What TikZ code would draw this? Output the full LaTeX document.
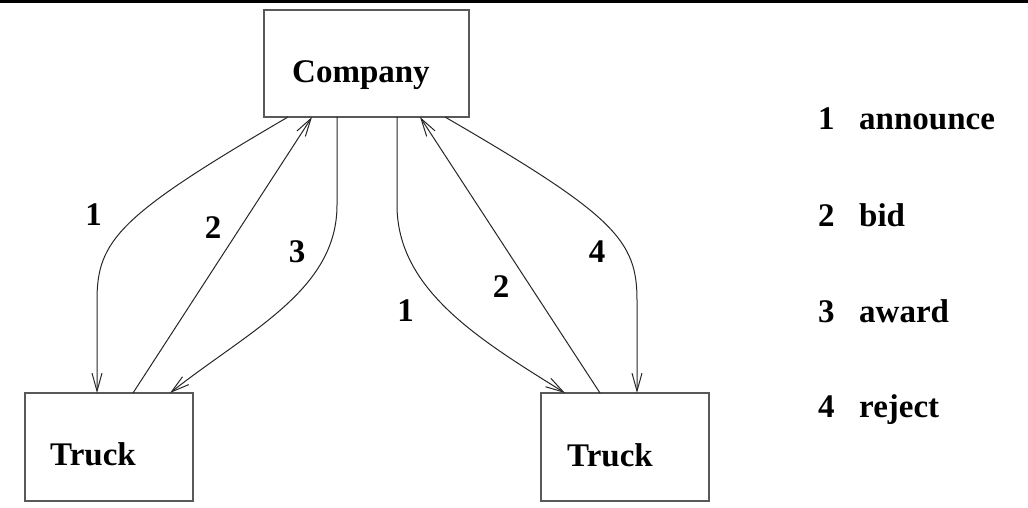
\documentclass[tikz,border=0pt]{standalone}
\usepackage{fontspec}
\setmainfont{Liberation Serif}
\usetikzlibrary{arrows.meta}
\begin{document}
\begin{tikzpicture}[x=1pt,y=-1pt,
  box/.style={draw=black!65,line width=1.6pt,rectangle,inner sep=0pt,outer sep=0pt},
  lbl/.style={inner sep=0pt,anchor=base west,font=\fontsize{33}{39}\selectfont\bfseries},
  num/.style={inner sep=0pt,anchor=center,font=\fontsize{33}{39}\selectfont\bfseries},
  msg/.style={draw=black!85,line width=1pt,-{Straight Barb[length=18pt,width=10pt,line width=1pt]}}]
\useasboundingbox (0,0) rectangle (1028,508);
% rule along the top edge
\draw[line width=3pt] (0,1.5) coordinate (rl) -- (1028,1.5) coordinate (rr);

% the three agents
\node[box,minimum width=205pt,minimum height=107pt] (co) at (366.5,63.5) {};
\node[box,minimum width=168pt,minimum height=108pt] (lt) at (109,447) {};
\node[box,minimum width=168pt,minimum height=108pt] (rt) at (625,447) {};
\node[lbl] (cotxt) at (292,82.5) {Company};
\node[lbl] (lttxt) at (50,465.5) {Truck};
\node[lbl] (rttxt) at (567,466) {Truck};

% messages between the company and the left truck
\draw[msg] ([xshift=24]co.south west) .. controls (120,215) and (97,240) .. (97,300) -- ([xshift=72]lt.north west);
\draw[msg] ([xshift=108]lt.north west) -- ([xshift=48]co.south west);
\draw[msg] ([xshift=73]co.south west) -- (337,205) .. controls (337,290) and (250,330) .. ([xshift=145]lt.north west);

% messages between the company and the right truck
\draw[msg] ([xshift=133]co.south west) -- (397,205) .. controls (397,290) and (480,340) .. ([xshift=24]rt.north west);
\draw[msg] ([xshift=59]rt.north west) -- ([xshift=156]co.south west);
\draw[msg] ([xshift=181]co.south west) .. controls (614,215) and (637,240) .. (637,300) -- ([xshift=96]rt.north west);

% message numbers
\node[num] (n1l) at (93.5,215) {1};
\node[num] (n2l) at (213,228) {2};
\node[num] (n3l) at (297,251.5) {3};
\node[num] (n1r) at (405.5,311) {1};
\node[num] (n2r) at (501,287) {2};
\node[num] (n4r) at (597,251.5) {4};

% key
\node[lbl] (k1) at (818,130) {1};
\node[lbl] (k1t) at (859,130) {announce};
\node[lbl] (k2) at (818,226) {2};
\node[lbl] (k2t) at (859,226) {bid};
\node[lbl] (k3) at (818,322) {3};
\node[lbl] (k3t) at (859,322) {award};
\node[lbl] (k4) at (818,417) {4};
\node[lbl] (k4t) at (859,417) {reject};
\end{tikzpicture}
\end{document}
